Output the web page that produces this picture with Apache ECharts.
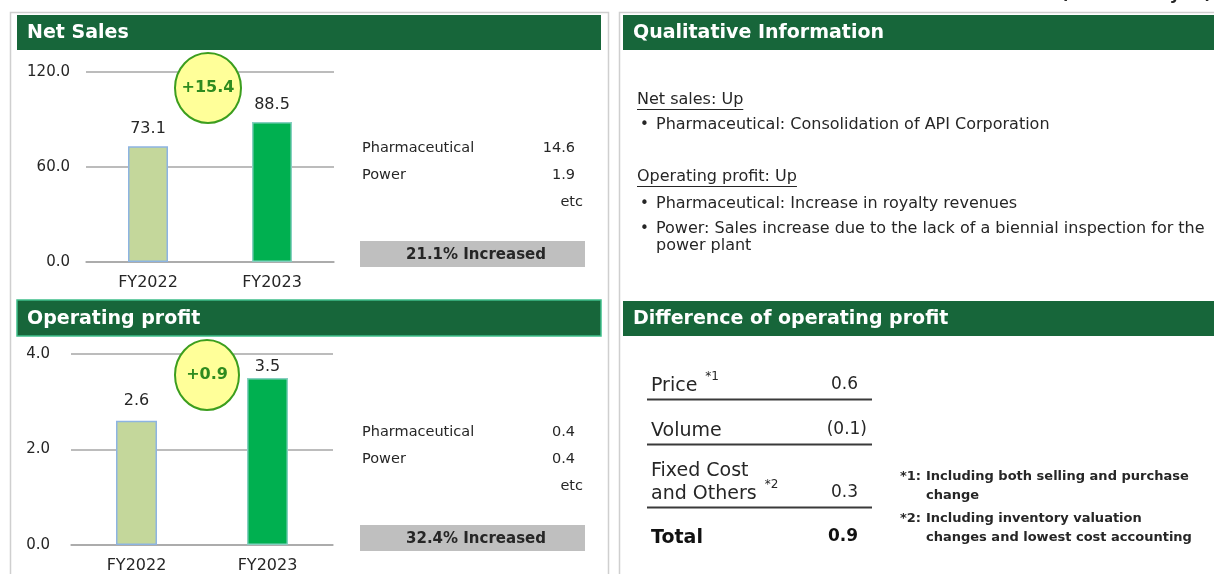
<!DOCTYPE html>
<html><head><meta charset="utf-8">
<script src="https://cdn.jsdelivr.net/npm/echarts@6/dist/echarts.min.js"></script>
<style>html,body{margin:0;padding:0;background:#fff}#c{width:1214px;height:574px}</style>
</head><body><div id="c"></div>
<script>
// ---------- data ----------
const categories = ['FY2022', 'FY2023'];
const netSales = [73.1, 88.5];
const opProfit = [2.6, 3.5];
const salesAxis = [0, 60, 120];
const profitAxis = [0, 2, 4];
const breakdownLabels = ['Pharmaceutical', 'Power'];
const salesBreakdown = [14.6, 1.9];
const profitBreakdown = [0.4, 0.4];
const salesRate = '21.1%';
const profitRate = '32.4%';
const diffLabels = ['Price', 'Volume', 'Fixed Cost\nand Others', 'Total'];
const diffNotes = ['*1', '', '*2', ''];
const diffValues = [0.6, -0.1, 0.3, 0.9];
const qualHeads = ['Net sales: Up', 'Operating profit: Up'];
const qualSales = ['Pharmaceutical: Consolidation of API Corporation'];
const qualProfit = ['Pharmaceutical: Increase in royalty revenues',
  'Power: Sales increase due to the lack of a biennial inspection for the\npower plant'];
const footnoteMarks = ['*1:', '*2:'];
const footnotes = ['Including both selling and purchase\nchange', 'Including inventory valuation\nchanges and lowest cost accounting'];

// ---------- styling ----------
const F = "'DejaVu Sans',sans-serif";
const GREEN = '#17663a';
const TXT = '#262626';
const barColors = ['#c4d79b', '#00b050'];
const barBorders = ['#8db4e2', '#86cfc0'];

const meas = document.createElement('canvas').getContext('2d');
function tw(s, size, weight) { meas.font = (weight || 'normal') + ' ' + size + 'px ' + F; return meas.measureText(s).width; }

const chart = echarts.init(document.getElementById('c'), null, {renderer: 'canvas'});

function bars(vals, dists) {
  return vals.map((v, i) => ({
    value: v,
    itemStyle: {color: barColors[i], borderColor: barBorders[i], borderWidth: 1.5},
    label: {distance: dists[i]}
  }));
}
function fmt(v) { return v < 0 ? '(' + Math.abs(v).toFixed(1) + ')' : v.toFixed(1); }

const g = [];
// column frames
g.push({type: 'rect', shape: {x: 10.5, y: 12.5, width: 598, height: 600}, style: {fill: 'none', stroke: '#cfcfcf', lineWidth: 1.5}, z: 0});
g.push({type: 'rect', shape: {x: 619.5, y: 12.5, width: 600, height: 600}, style: {fill: 'none', stroke: '#cfcfcf', lineWidth: 1.5}, z: 0});
// headers
function header(x, y, w, h, text, outline) {
  g.push({type: 'rect', shape: {x: x, y: y, width: w, height: h}, style: {fill: GREEN, stroke: outline || GREEN, lineWidth: outline ? 1.5 : 0}, z: 1});
  g.push({type: 'text', x: x + 10, y: y + h / 2 + 1, style: {text: text, fill: '#fff', font: 'bold 19px ' + F, textVerticalAlign: 'middle'}, z: 2});
}
header(17, 15, 584, 35, 'Net Sales');
header(17, 300, 584, 36, 'Operating profit', '#3fbf8a');
header(623, 15, 600, 35, 'Qualitative Information');
header(623, 301, 600, 35, 'Difference of operating profit');
// units (cut at top)
g.push({type: 'text', x: 1212, y: 3, style: {text: '(Billions of yen)', fill: TXT, font: 'bold 17px ' + F, textAlign: 'right', textVerticalAlign: 'bottom'}});

// breakdown text + rate boxes
function side(y0, vals, rate) {
  breakdownLabels.forEach((l, i) => {
    g.push({type: 'text', x: 362, y: y0 + i * 27, style: {text: l, fill: TXT, font: '14.5px ' + F, textVerticalAlign: 'middle'}});
    g.push({type: 'text', x: 575, y: y0 + i * 27, style: {text: vals[i].toFixed(1), fill: TXT, font: '14.5px ' + F, textAlign: 'right', textVerticalAlign: 'middle'}});
  });
  g.push({type: 'text', x: 583, y: y0 + 54, style: {text: 'etc', fill: TXT, font: '14.5px ' + F, textAlign: 'right', textVerticalAlign: 'middle'}});
  g.push({type: 'rect', shape: {x: 360, y: y0 + 93, width: 225, height: 26}, style: {fill: '#bfbfbf'}});
  g.push({type: 'text', x: 476, y: y0 + 107, style: {text: rate + ' Increased', fill: TXT, font: 'bold 15px ' + F, textAlign: 'center', textVerticalAlign: 'middle'}});
}
side(148, salesBreakdown, salesRate);
side(432, profitBreakdown, profitRate);

// delta bubbles
function bubble(cx, cy, rx, ry, vals) {
  g.push({type: 'ellipse', shape: {cx: cx, cy: cy, rx: rx, ry: ry}, style: {fill: '#ffff99', stroke: '#3c9e1e', lineWidth: 2}, z: 5});
  g.push({type: 'text', x: cx, y: cy, style: {text: '+' + (vals[1] - vals[0]).toFixed(1), fill: '#2e8b1f', font: 'bold 16px ' + F, textAlign: 'center', textVerticalAlign: 'middle'}, z: 6});
}
bubble(208, 88, 33, 35, netSales);
bubble(207, 375, 32, 35, opProfit);

// qualitative info
function uline(x, y, text, size) {
  g.push({type: 'text', x: x, y: y, style: {text: text, fill: TXT, font: size + 'px ' + F, textVerticalAlign: 'middle'}});
  g.push({type: 'line', shape: {x1: x, y1: y + 9.5, x2: x + tw(text, size), y2: y + 9.5}, style: {stroke: TXT, lineWidth: 1}});
}
function bullet(y, text) {
  g.push({type: 'text', x: 640, y: y, style: {text: '•', fill: TXT, font: '15px ' + F, textVerticalAlign: 'middle'}});
  g.push({type: 'text', x: 656, y: y - 9, style: {text: text, fill: TXT, font: '16px ' + F, textVerticalAlign: 'top', lineHeight: 17}});
}
uline(637, 100, qualHeads[0], 16);
bullet(125, qualSales[0]);
uline(637, 177, qualHeads[1], 16);
bullet(204, qualProfit[0]);
bullet(229, qualProfit[1]);

// difference table
const rowY = [386, 431, 494, 538];
diffLabels.forEach((l, i) => {
  const bold = i === diffLabels.length - 1;
  const lines = l.split('\n');
  lines.forEach((t, k) => {
    const yy = rowY[i] - (lines.length - 1 - k) * 23;
    g.push({type: 'text', x: 651, y: yy, style: {text: t, fill: bold ? '#111' : TXT, font: (bold ? 'bold ' : '') + '19px ' + F, textVerticalAlign: 'middle'}});
  });
  if (diffNotes[i]) {
    const last = lines[lines.length - 1];
    g.push({type: 'text', x: 651 + tw(last, 19) + 8, y: rowY[i] - 9, style: {text: diffNotes[i], fill: TXT, font: '12px ' + F, textVerticalAlign: 'middle'}});
  }
  const v = diffValues[i];
  g.push({type: 'text', x: v < 0 ? 867 : 858, y: rowY[i] - 1, style: {text: fmt(v), fill: bold ? '#111' : TXT, font: (bold ? 'bold ' : '') + '17px ' + F, textAlign: 'right', textVerticalAlign: 'middle'}});
  if (!bold) g.push({type: 'line', shape: {x1: 647, y1: rowY[i] + 13.5, x2: 872, y2: rowY[i] + 13.5}, style: {stroke: '#3a3a3a', lineWidth: 2}});
});
// footnotes
footnotes.forEach((t, i) => {
  const y = [467, 509][i];
  g.push({type: 'text', x: 900, y: y, style: {text: footnoteMarks[i], fill: TXT, font: 'bold 13px ' + F, textVerticalAlign: 'top', lineHeight: 19}});
  g.push({type: 'text', x: 926, y: y, style: {text: t, fill: TXT, font: 'bold 13px ' + F, textVerticalAlign: 'top', lineHeight: 19}});
});

function yAx(idx, ticks, margin) {
  return {gridIndex: idx, type: 'value', min: ticks[0], max: ticks[ticks.length - 1], interval: ticks[1] - ticks[0],
    axisLine: {show: false}, axisTick: {show: false},
    axisLabel: {formatter: v => v.toFixed(1), fontSize: 15, color: TXT, fontFamily: F, margin: margin},
    splitLine: {lineStyle: {color: '#a6a6a6', width: 1.5}}};
}
function xAx(idx) {
  return {gridIndex: idx, type: 'category', data: categories,
    axisLine: {lineStyle: {color: '#a6a6a6', width: 1.5}}, axisTick: {show: false},
    axisLabel: {fontSize: 16, color: TXT, fontFamily: F, margin: 13}};
}
const barLabel = {show: true, position: 'top', fontSize: 16, color: TXT, fontFamily: F};

chart.setOption({
  animation: false,
  backgroundColor: '#fff',
  grid: [
    {left: 86, top: 72, width: 248, height: 190},
    {left: 71, top: 354, width: 262, height: 194}
  ],
  xAxis: [xAx(0), xAx(1)],
  yAxis: [yAx(0, salesAxis, 16), yAx(1, profitAxis, 21)],
  series: [
    {type: 'bar', xAxisIndex: 0, yAxisIndex: 0, barWidth: 40, data: bars(netSales, [9, 9]), label: Object.assign({formatter: p => p.value.toFixed(1)}, barLabel)},
    {type: 'bar', xAxisIndex: 1, yAxisIndex: 1, barWidth: 41, data: bars(opProfit, [12, 3]), label: Object.assign({formatter: p => p.value.toFixed(1)}, barLabel)}
  ],
  graphic: g
});
</script></body></html>
